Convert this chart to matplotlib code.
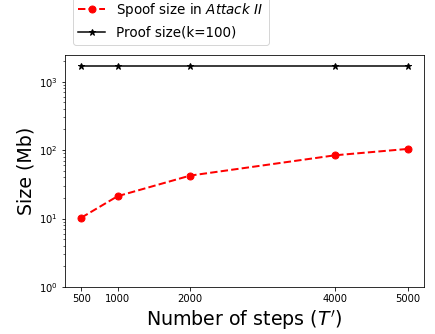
import matplotlib
matplotlib.use("Agg")
import matplotlib.pyplot as plt

steps = [500, 1000, 2000, 4000, 5000]
spoof_size = [10.3, 21.2, 42.4, 84, 104]
proof_size = [1700, 1700, 1700, 1700, 1700]

fig = plt.figure(figsize=(435 / 72, 334 / 72), dpi=72)
ax = fig.add_axes([65 / 435, 1 - 287 / 334, (424 - 65) / 435, (287 - 55) / 334])

ax.plot(steps, spoof_size, "r--o", linewidth=2, markersize=7,
        label=r"Spoof size in $\it{Attack\ II}$")
ax.plot(steps, proof_size, "k-*", linewidth=1.5, markersize=7,
        label="Proof size(k=100)")

ax.set_yscale("log")
ax.set_ylim(1, 2450)
ax.set_xticks(steps)
ax.tick_params(labelsize=10)
ax.set_xlabel(r"Number of steps ($T'$)", fontsize=19)
ax.set_ylabel("Size (Mb)", fontsize=19)

fig.legend(loc="lower left", bbox_to_anchor=(73 / 435, 1 - 45 / 334),
           borderaxespad=0, fontsize=13.5)

fig.savefig("out.png", dpi=72)
